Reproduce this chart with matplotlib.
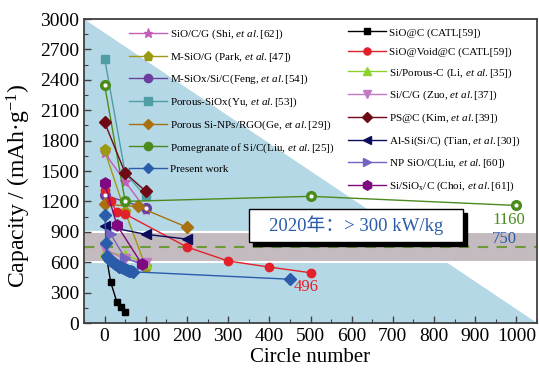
import numpy as np
import matplotlib
matplotlib.use("Agg")
import matplotlib.pyplot as plt
from matplotlib.patches import Rectangle, Polygon

plt.rcParams['font.family'] = ['Liberation Serif', 'Noto Sans CJK SC', 'DejaVu Sans']
plt.rcParams['mathtext.fontset'] = 'custom'
plt.rcParams['mathtext.rm'] = 'Liberation Serif'
plt.rcParams['mathtext.it'] = 'Liberation Serif:italic'
plt.rcParams['mathtext.bf'] = 'Liberation Serif:bold'

# ---- data (cycles, capacity mAh/g) ----
shi_x = [0, 50, 100]
shi_y = [1680, 1395, 1120]
park_x = [0, 50, 100]
park_y = [1705, 1095, 555]
feng_x = [0, 100]
feng_y = [1260, 1135]
yu_x = [0, 50, 100]
yu_y = [2610, 1480, 1250]
ge_x = [0, 80, 200]
ge_y = [1170, 1150, 945]
pome_x = [0, 50, 500, 1000]
pome_y = [2350, 1200, 1250, 1160]
present_x = [1, 3, 5, 8, 10, 13, 16, 20, 23, 26, 30, 33, 36, 40, 45, 50, 55, 60, 65, 70, 450]
present_y = [1070, 785, 660, 645, 635, 625, 615, 605, 595, 585, 575, 565, 555, 548, 538, 528, 520, 515, 510, 505, 432]

catl_x = [5, 15, 30, 40, 50]
catl_y = [640, 400, 205, 160, 110]
void_x = [0, 15, 30, 50, 200, 300, 400, 500]
void_y = [1310, 1200, 1095, 1075, 750, 612, 552, 496]
li_x = [0, 50, 100]
li_y = [700, 670, 595]
zuo_x = [0, 50, 100]
zuo_y = [730, 630, 590]
kim_x = [0, 50, 100]
kim_y = [1980, 1480, 1300]
tian_x = [0, 100, 200]
tian_y = [955, 875, 828]
npliu_x = [15, 50, 90]
npliu_y = [875, 640, 580]
choi_x = [0, 30, 90]
choi_y = [1380, 965, 585]

target_2020 = 750
band = [600, 900]
box_text = '2020年：> 300 kW/kg'

etal = r'$\it{et\ al.}$'
labels1 = ['SiO/C/G (Shi, ' + etal + '[62])',
           'M-SiO/G (Park, ' + etal + '[47])',
           'M-SiOx/Si/C(Feng, ' + etal + '[54])',
           'Porous-SiOx(Yu, ' + etal + '[53])',
           'Porous Si-NPs/RGO(Ge, ' + etal + '[29])',
           'Pomegranate of Si/C(Liu, ' + etal + '[25])',
           'Present work']
labels2 = ['SiO@C (CATL[59])',
           'SiO@Void@C (CATL[59])',
           'Si/Porous-C (Li, ' + etal + '[35])',
           'Si/C/G (Zuo, ' + etal + '[37])',
           'PS@C (Kim, ' + etal + '[39])',
           'Al-Si(Si/C) (Tian, ' + etal + '[30])',
           'NP SiO/C(Liu, ' + etal + '[60])',
           r'Si/SiO$_\mathrm{x}$/C (Choi, ' + etal + '[61])']

fig = plt.figure(figsize=(5.39, 3.71), dpi=100)
ax = fig.add_axes([84/539, 48/371, 453/539, 304/371])
ax.set_xlim(-50, 1050)
ax.set_ylim(0, 3000)

# background triangle
ax.add_patch(Polygon([(0, 0), (0, 1), (1, 0)], closed=True, transform=ax.transAxes,
                     facecolor='#b5d8e7', edgecolor='none', zorder=0))
ax.axhspan(band[0], band[1], facecolor='#c3bbbf', edgecolor='white', lw=1.5, zorder=1)
ax.axhline(target_2020, color='#6f9a3a', ls=(0, (5, 4)), lw=1.5, zorder=2)

ms = 7
h1 = []
h1.append(ax.plot(shi_x, shi_y, '-*', color='#c45cb8', ms=ms+1, lw=1, zorder=5)[0])
h1.append(ax.plot(park_x, park_y, '-p', color='#9c9a14', ms=ms+1, lw=1, zorder=5)[0])
h1.append(ax.plot(feng_x, feng_y, '-o', color='#6a3fa0', ms=ms, lw=1, mfc='#6a3fa0', zorder=5)[0])
h1.append(ax.plot(yu_x, yu_y, '-s', color='#4f9ea4', ms=ms-1, lw=1, zorder=5)[0])
h1.append(ax.plot(ge_x, ge_y, '-D', color='#a8700e', ms=ms-1, lw=1, zorder=5)[0])
h1.append(ax.plot(pome_x, pome_y, '-o', color='#4b8b1e', ms=ms, lw=1, zorder=5)[0])
h1.append(ax.plot(present_x, present_y, '-D', color='#2a5caa', ms=ms-1, lw=1, zorder=6)[0])

h2 = []
h2.append(ax.plot(catl_x, catl_y, '-s', color='black', ms=ms-2, lw=1, zorder=5)[0])
h2.append(ax.plot(void_x, void_y, '-o', color='#e4202a', ms=ms-1, lw=1, zorder=5)[0])
h2.append(ax.plot(li_x, li_y, '-^', color='#8fd12c', ms=ms, lw=1, zorder=5)[0])
h2.append(ax.plot(zuo_x, zuo_y, '-v', color='#c07ac4', ms=ms, lw=1, zorder=5)[0])
h2.append(ax.plot(kim_x, kim_y, '-D', color='#6e0a14', ms=ms-1, lw=1, zorder=5)[0])
h2.append(ax.plot(tian_x, tian_y, '-<', color='#0c0c5c', ms=ms, lw=1, zorder=5)[0])
h2.append(ax.plot(npliu_x, npliu_y, '->', color='#7463c0', ms=ms, lw=1, zorder=5)[0])
h2.append(ax.plot(choi_x, choi_y, '-h', color='#7e0a80', ms=ms+1, lw=1, zorder=5)[0])

# white highlights on sphere-like markers
for xs, ys in [(feng_x, feng_y), (pome_x, pome_y)]:
    ax.plot(xs, ys, 'o', color='white', ms=2, ls='none', zorder=6)

leg_kw = dict(frameon=False, fontsize=8, handlelength=3.4, handletextpad=0.3,
              labelspacing=0.83, borderpad=0, borderaxespad=0, markerscale=0.85,
              loc='upper left')
leg1 = ax.legend(h1, labels1, bbox_to_anchor=(0.099, 0.972), **leg_kw)
ax.add_artist(leg1)
leg2 = ax.legend(h2, labels2, bbox_to_anchor=(0.583, 0.972), **leg_kw)
for lg in (leg1, leg2):
    lg.set_zorder(7)

# annotations
ax.annotate(str(pome_y[-1]), xy=(pome_x[-1], pome_y[-1]), xytext=(-8, -15),
            textcoords='offset pixels', ha='center', va='center', color='#4b8b1e', fontsize=12, zorder=8)
ax.annotate(str(target_2020), xy=(970, target_2020), xytext=(0, 8),
            textcoords='offset pixels', ha='center', va='center', color='#2a5caa', fontsize=12, zorder=8)
ax.annotate(str(void_y[-1]), xy=(void_x[-1], void_y[-1]), xytext=(-4, -14),
            textcoords='offset pixels', ha='center', va='center', color='#e4202a', fontsize=12, zorder=8)

# text box with shadow
bx, by, bw, bh = 0.364, 0.266, 0.472, 0.109
ax.add_patch(Rectangle((bx + 0.009, by - 0.013), bw, bh, transform=ax.transAxes,
                       facecolor='black', edgecolor='black', zorder=9))
ax.add_patch(Rectangle((bx, by), bw, bh, transform=ax.transAxes,
                       facecolor='white', edgecolor='black', lw=1, zorder=10))
ax.text(bx + bw/2, by + bh/2, box_text, transform=ax.transAxes, ha='center', va='center',
        fontsize=13.5, color='#2a5caa', zorder=11)

ax.set_xticks(np.arange(0, 1001, 100))
ax.set_yticks(np.arange(0, 3001, 300))
ax.set_xticks(np.arange(-50, 1051, 50), minor=True)
ax.set_yticks(np.arange(0, 3001, 150), minor=True)
ax.tick_params(which='both', direction='in', top=False, right=False, labelsize=14, color='#404040')
ax.tick_params(which='major', length=5, width=1)
ax.tick_params(which='minor', length=3, width=0.8)
for sp in ax.spines.values():
    sp.set_color('#404040')
    sp.set_linewidth(1.3)
    sp.set_zorder(12)

ax.set_xlabel('Circle number', fontsize=15, labelpad=2)
ax.set_ylabel('Capacity / (mAh·g$^{-1}$)', fontsize=17)
ax.yaxis.set_label_coords(-0.143, 0.45)
ax.yaxis.label.set_va('center')

fig.savefig('out.png', dpi=100)
